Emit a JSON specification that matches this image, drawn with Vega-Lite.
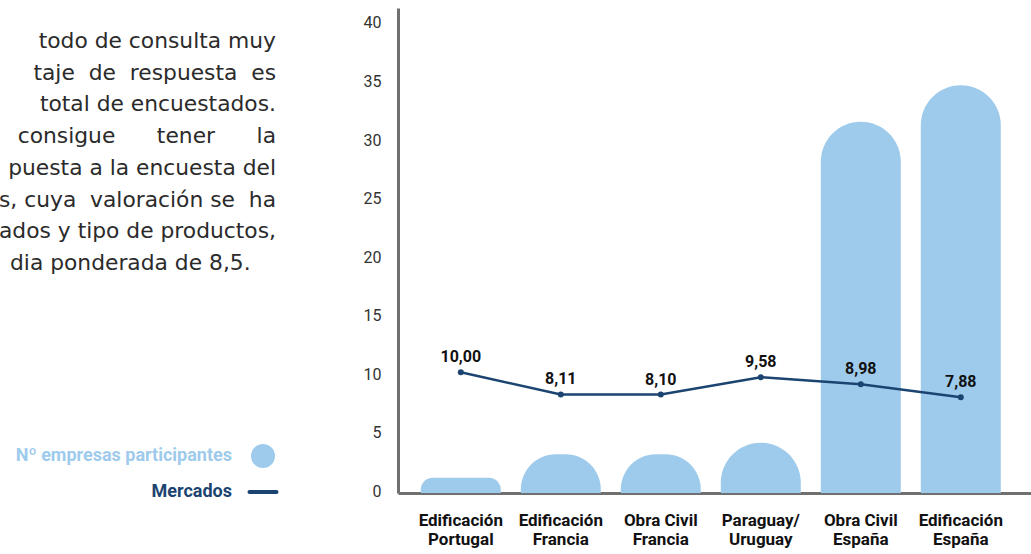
{
  "$schema": "https://vega.github.io/schema/vega-lite/v6.json",
  "width": 633,
  "height": 485,
  "autosize": {"type": "none"},
  "padding": {"left": 398, "top": 8, "right": 0, "bottom": 61},
  "background": "white",
  "config": {
    "view": {"stroke": null},
    "font": "Roboto",
    "locale": {"number": {"decimal": ",", "thousands": ".", "grouping": [3], "currency": ["", " €"]}}
  },
  "data": {
    "values": [
      {"mercado": "Edificación Portugal", "empresas": 1, "valoracion": 10.0},
      {"mercado": "Edificación Francia", "empresas": 3, "valoracion": 8.11},
      {"mercado": "Obra Civil Francia", "empresas": 3, "valoracion": 8.1},
      {"mercado": "Paraguay/ Uruguay", "empresas": 4, "valoracion": 9.58},
      {"mercado": "Obra Civil España", "empresas": 31.4, "valoracion": 8.98},
      {"mercado": "Edificación España", "empresas": 34.5, "valoracion": 7.88}
    ]
  },
  "layer": [
    {
      "mark": {
        "type": "bar",
        "clip": true,
        "cornerRadiusTopLeft": {"expr": "min(40, scale('y', 0) - scale('y', datum.empresas))"},
        "cornerRadiusTopRight": {"expr": "min(40, scale('y', 0) - scale('y', datum.empresas))"}
      },
      "encoding": {
        "x": {
          "field": "mercado", "type": "nominal", "sort": null,
          "scale": {"paddingInner": 0.2, "paddingOuter": 0.265, "align": 0.43},
          "axis": {
            "title": null, "labelAngle": 0, "ticks": false,
            "domainColor": "#707070", "domainWidth": 3,
            "labelFontSize": 17, "labelFontWeight": "bold", "labelColor": "#111111",
            "labelPadding": 19, "labelLineHeight": 19,
            "labelExpr": "[slice(datum.label, 0, lastindexof(datum.label, ' ')), slice(datum.label, lastindexof(datum.label, ' ') + 1)]"
          }
        },
        "y": {
          "field": "empresas", "type": "quantitative", "stack": null,
          "scale": {"domain": [-0.3, 41.1], "nice": false, "zero": false},
          "axis": {
            "title": null, "values": [0, 5, 10, 15, 20, 25, 30, 35, 40],
            "ticks": false, "grid": false,
            "domainColor": "#707070", "domainWidth": 3,
            "labelFontSize": 16, "labelColor": "#333333", "labelPadding": 17, "labelOffset": 2
          }
        },
        "y2": {"datum": -3.4},
        "color": {
          "datum": "Nº empresas participantes", "type": "nominal",
          "scale": {"domain": ["Nº empresas participantes", "Mercados"], "range": ["#9ecbec", "#1b4470"]},
          "legend": {
            "orient": "none", "legendX": -144, "legendY": 439, "title": null,
            "direction": "vertical", "padding": 0,
            "labelAlign": "right", "labelOffset": -40, "labelLimit": 0,
            "labelFontSize": 18, "labelFontWeight": "bold",
            "symbolSize": 676, "rowPadding": 15,
            "encode": {
              "symbols": {
                "update": {
                  "shape": {"signal": "datum.label === 'Mercados' ? 'stroke' : 'circle'"},
                  "size": {"signal": "datum.label === 'Mercados' ? 729 : 576"},
                  "fill": {"signal": "datum.label === 'Mercados' ? 'transparent' : '#9ecbec'"},
                  "stroke": {"signal": "datum.label === 'Mercados' ? '#1b4470' : 'transparent'"},
                  "strokeWidth": {"signal": "datum.label === 'Mercados' ? 4 : 0"},
                  "strokeCap": {"value": "round"},
                  "opacity": {"value": 1}
                }
              },
              "labels": {
                "update": {
                  "fill": {"signal": "datum.label === 'Mercados' ? '#1b4470' : '#9ecbec'"}
                }
              }
            }
          }
        }
      }
    },
    {
      "mark": {"type": "line", "strokeWidth": 2.5, "point": {"filled": true, "size": 36}},
      "encoding": {
        "x": {"field": "mercado", "type": "nominal", "sort": null},
        "y": {"field": "valoracion", "type": "quantitative"},
        "color": {"datum": "Mercados", "type": "nominal"}
      }
    },
    {
      "mark": {"type": "text", "dy": -15, "fontSize": 16, "fontWeight": "bold", "color": "#111111"},
      "encoding": {
        "x": {"field": "mercado", "type": "nominal", "sort": null},
        "y": {"field": "valoracion", "type": "quantitative"},
        "text": {"field": "valoracion", "type": "quantitative", "format": ".2f"}
      }
    },
    {
      "data": {"values": [{}]},
      "mark": {
        "type": "text", "align": "right", "baseline": "top", "font": "DejaVu Sans",
        "x": -122, "y": 23, "fontSize": 21.8, "lineHeight": 31.7, "color": "#2b2b2b",
        "text": [
          "todo\u00a0de\u00a0consulta\u00a0muy",
          "taje\u00a0\u00a0de\u00a0\u00a0respuesta\u00a0\u00a0es",
          "total\u00a0de\u00a0encuestados.",
          "consigue\u00a0\u00a0\u00a0\u00a0\u00a0\u00a0tener\u00a0\u00a0\u00a0\u00a0\u00a0\u00a0la",
          "puesta a la encuesta del",
          "s,\u00a0cuya\u00a0\u00a0valoración\u00a0se\u00a0\u00a0ha",
          "ados y tipo de productos,"
        ]
      },
      "encoding": {}
    },
    {
      "data": {"values": [{}]},
      "mark": {
        "type": "text", "align": "left", "baseline": "top", "font": "DejaVu Sans",
        "x": -388, "y": 245, "fontSize": 21.8, "color": "#2b2b2b",
        "text": "dia ponderada de 8,5."
      },
      "encoding": {}
    }
  ]
}
